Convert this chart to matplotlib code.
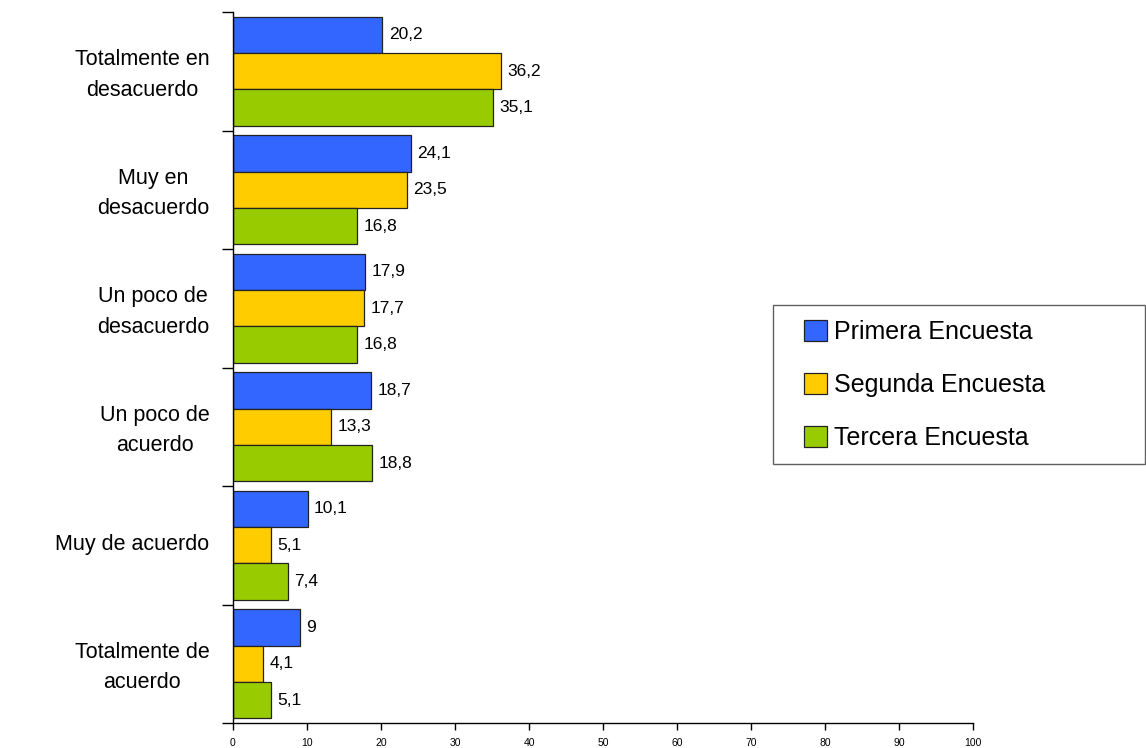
import matplotlib
matplotlib.use("Agg")
import matplotlib.pyplot as plt
import matplotlib.patches as mpatches
import numpy as np

plt.rcParams['font.family'] = ['Liberation Sans', 'DejaVu Sans']

# categories, top to bottom
categories = ["Totalmente en\ndesacuerdo", "Muy en\ndesacuerdo", "Un poco de\ndesacuerdo",
              "Un poco de\nacuerdo", "Muy de acuerdo", "Totalmente de\nacuerdo"]
series_names = ["Primera Encuesta", "Segunda Encuesta", "Tercera Encuesta"]
primera = [20.2, 24.1, 17.9, 18.7, 10.1, 9]
segunda = [36.2, 23.5, 17.7, 13.3, 5.1, 4.1]
tercera = [35.1, 16.8, 16.8, 18.8, 7.4, 5.1]
colors = ["#3366FF", "#FFCC00", "#99CC00"]
x_ticks = list(range(0, 101, 10))

W, H = 1146, 748
fig = plt.figure(figsize=(W / 100, H / 100), dpi=100)
ax = fig.add_axes([233 / W, (H - 723) / H, 740 / W, 711 / H])

pos = np.arange(len(categories))
bh = 0.307
for i, (vals, col) in enumerate(zip([primera, segunda, tercera], colors)):
    y = pos + (i - 1) * bh
    ax.barh(y, vals, height=bh, color=col, edgecolor="#222222", linewidth=0.9,
            label=series_names[i])
    for yy, v in zip(y, vals):
        txt = ("%g" % v).replace(".", ",")
        ax.annotate(txt, (v, yy), xytext=(4.5, 0), textcoords="offset points",
                    va="center", ha="left", fontsize=12.5)

ax.set_xlim(0, 100)
ax.set_ylim(len(categories) - 0.5, -0.5)
ax.set_xticks(x_ticks)
ax.set_xticklabels([str(t) for t in x_ticks], fontsize=7.5)
ax.tick_params(axis="x", length=5, width=1, pad=6)

ax.set_yticks(np.arange(-0.5, len(categories), 1.0))
ax.set_yticklabels([])
ax.tick_params(axis="y", which="major", length=8, width=1)
ax.set_yticks(pos - 0.03, minor=True)
ax.set_yticklabels(categories, minor=True, fontsize=15.5, multialignment="center",
                   linespacing=1.6)
ax.tick_params(axis="y", which="minor", length=0, pad=17)

for s in ["top", "right"]:
    ax.spines[s].set_visible(False)
for s in ["left", "bottom"]:
    ax.spines[s].set_linewidth(1)

# legend with its own frame
frame = mpatches.Rectangle((773 / W, (H - 464) / H), (1145 - 773) / W, 159 / H,
                           transform=fig.transFigure, fill=False,
                           edgecolor="#606060", linewidth=1)
fig.patches.append(frame)
handles, labels = ax.get_legend_handles_labels()
fig.legend(handles, labels, loc="center left", bbox_to_anchor=(804 / W, (H - 385) / H),
           frameon=False, fontsize=18, borderpad=0, borderaxespad=0,
           handlelength=0.9, handleheight=0.9, handletextpad=0.3, labelspacing=1.15)

fig.savefig("out.png", dpi=100)
